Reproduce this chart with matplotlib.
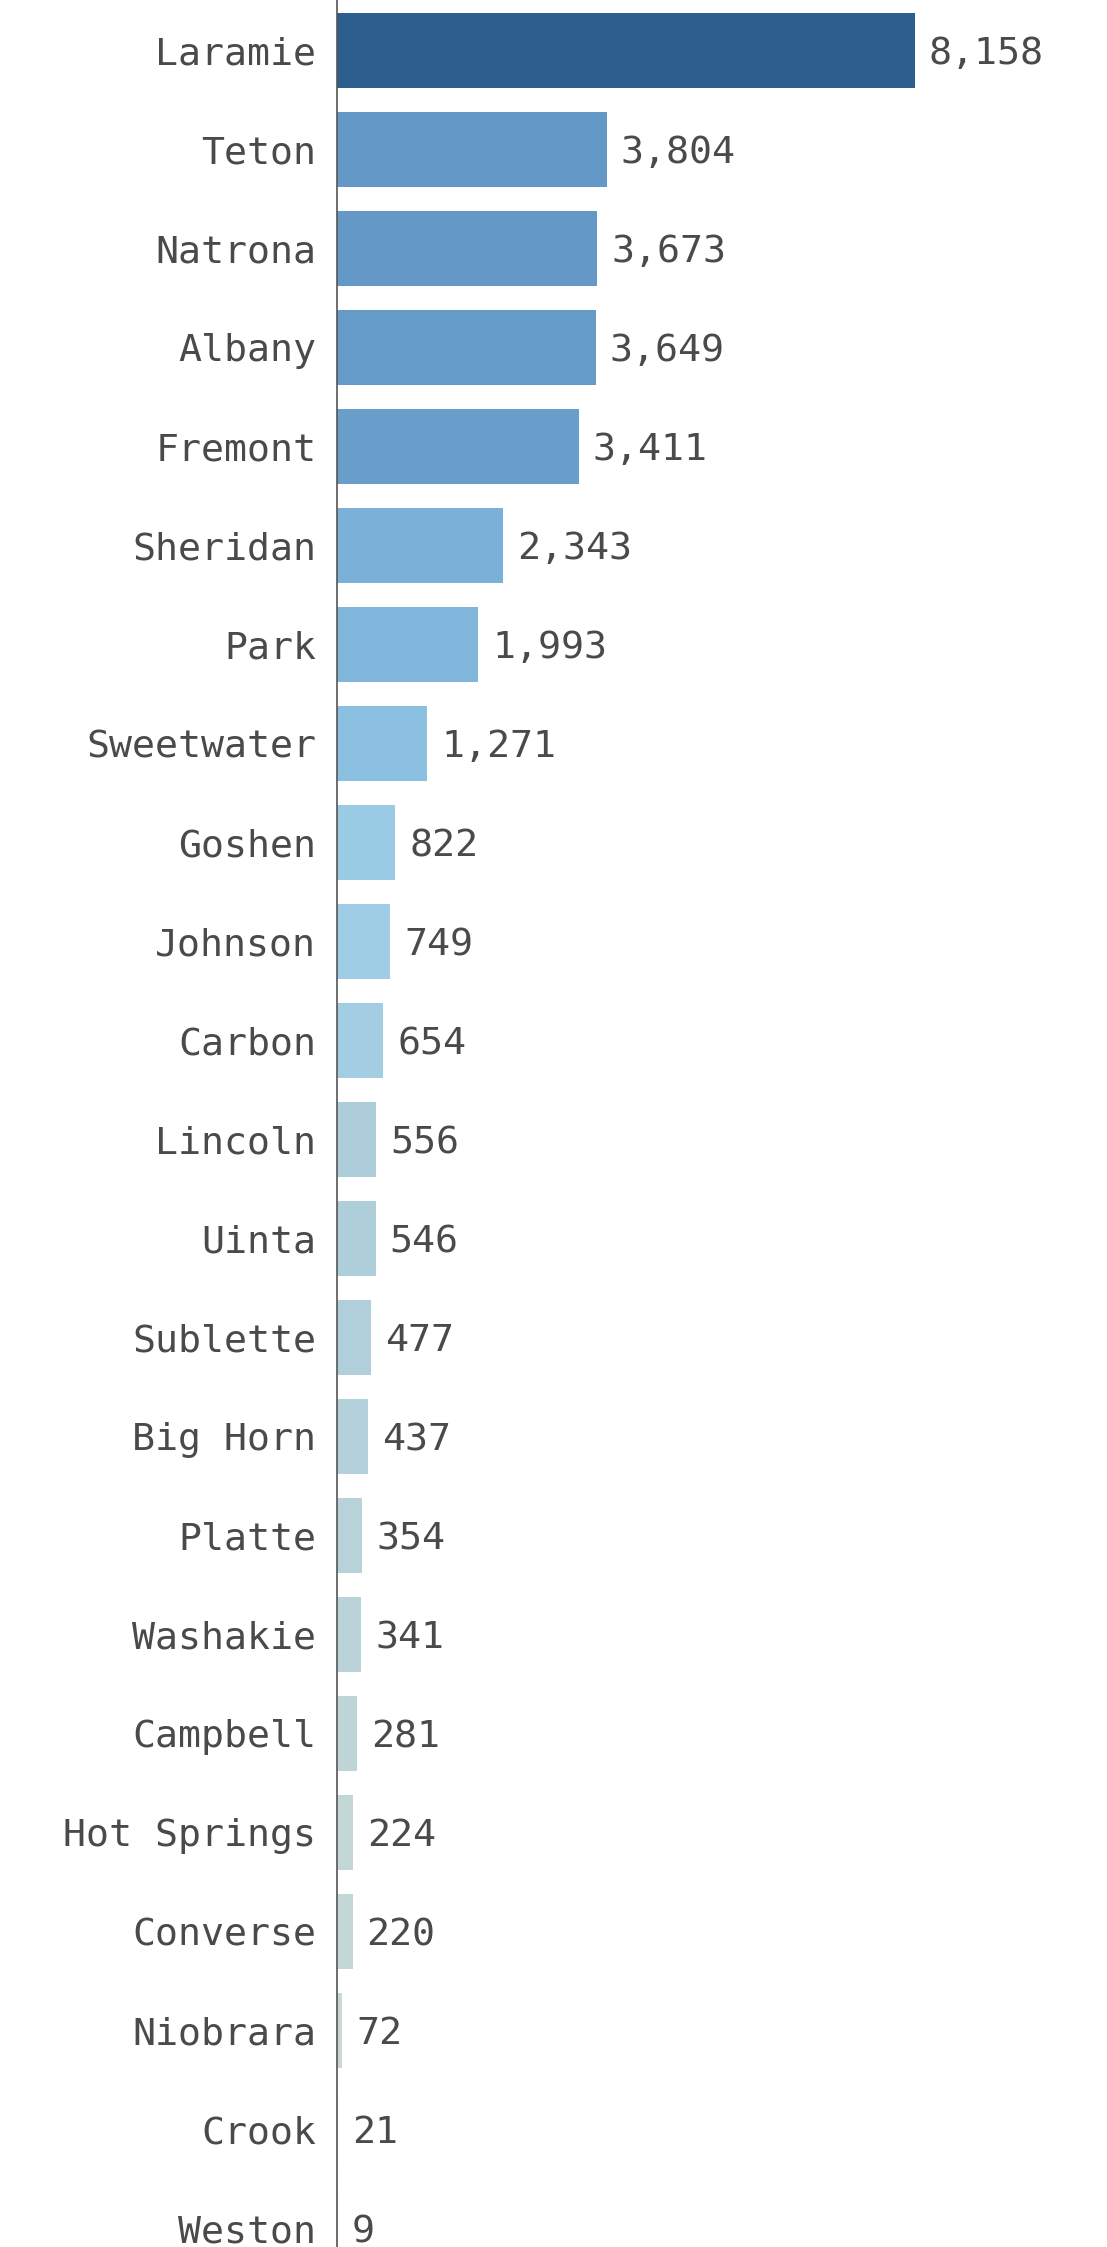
import matplotlib
matplotlib.use("Agg")
import matplotlib.pyplot as plt

counties = ["Laramie", "Teton", "Natrona", "Albany", "Fremont", "Sheridan", "Park",
            "Sweetwater", "Goshen", "Johnson", "Carbon", "Lincoln", "Uinta", "Sublette",
            "Big Horn", "Platte", "Washakie", "Campbell", "Hot Springs", "Converse",
            "Niobrara", "Crook", "Weston"]
values = [8158, 3804, 3673, 3649, 3411, 2343, 1993, 1271, 822, 749, 654, 556, 546,
          477, 437, 354, 341, 281, 224, 220, 72, 21, 9]
bar_colors = ["#2d5f8e", "#6499c7", "#6499c7", "#659bc8", "#689ec9", "#7bb1d9", "#80b6db",
              "#8cc0e0", "#9acbe4", "#9ecde5", "#a2cde3", "#adcdda", "#aeceda", "#b1cfdb",
              "#b4d0da", "#b8d2d9", "#bad3d9", "#bfd5d8", "#c3d7d7", "#c4d7d7",
              "#c8d8d6", "#cbd9d6", "#ccdad6"]

TEXT = "#4a4a4a"
plt.rcParams['font.family'] = ['DejaVu Sans Mono', 'DejaVu Sans']

fig = plt.figure(figsize=(11.07, 22.47), dpi=100)
ax = fig.add_axes([337 / 1107, 0, 1 - 337 / 1107, 1])

y = list(range(len(counties)))
ax.barh(y, values, height=0.76, color=bar_colors, linewidth=0)

for yi, v in zip(y, values):
    ax.annotate(f"{v:,}", xy=(v, yi), xytext=(10, 0), textcoords="offset points",
                ha="left", va="center_baseline", fontsize=27.5, color=TEXT)

ax.set_yticks(y)
ax.set_yticklabels(counties, fontsize=27.5, color=TEXT)
ax.tick_params(axis="y", length=0, pad=15)
ax.set_xticks([])
ax.set_xlim(0, 8158 * 770 / 578)
ax.set_ylim(22.19, -0.51)

for s in ["top", "right", "bottom"]:
    ax.spines[s].set_visible(False)
ax.spines["left"].set_color("#555555")
ax.spines["left"].set_linewidth(1.2)

fig.savefig("out.png", dpi=100, facecolor="white")
